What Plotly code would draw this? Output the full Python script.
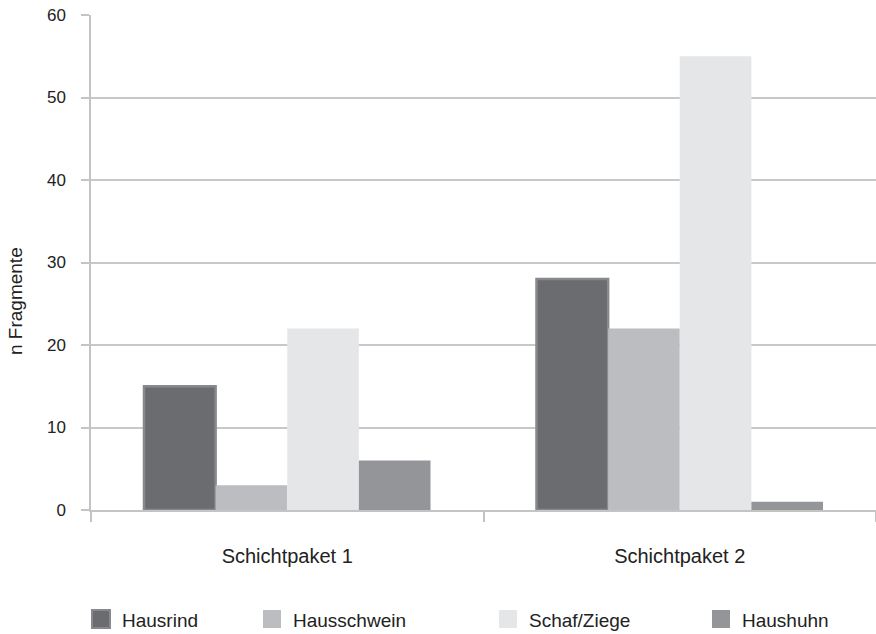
import plotly.graph_objects as go

# Fragment counts per layer package and species
categories = ["Schichtpaket 1", "Schichtpaket 2"]
series_names = ["Hausrind", "Hausschwein", "Schaf/Ziege", "Haushuhn"]
hausrind = [15, 28]
hausschwein = [3, 22]
schaf_ziege = [22, 55]
haushuhn = [6, 1]
y_ticks = [0, 10, 20, 30, 40, 50, 60]

series_values = [hausrind, hausschwein, schaf_ziege, haushuhn]
colors = ["#6b6c70", "#bcbdc0", "#e5e6e8", "#949598"]
outline = ["#88898d", None, None, None]

FONT = "Liberation Sans, Arial, sans-serif"
TEXT = "#222222"

W, H = 876, 634
L, T, B = 91, 15, 124
PW, PH = W - L, H - T - B


def px_x(x):
    return (x - L) / PW


def px_y(y):
    return (H - B - y) / PH


fig = go.Figure()
for name, vals, col, ol in zip(series_names, series_values, colors, outline):
    fig.add_trace(go.Bar(
        x=categories, y=vals, name=name,
        marker=dict(color=col,
                    line=dict(color=ol if ol else col, width=2.5 if ol else 0)),
        showlegend=False,
    ))

# Legend keys drawn below the plot
legend_x = [92, 263, 499, 712]
for name, col, ol, lx in zip(series_names, colors, outline, legend_x):
    fig.add_shape(type="rect", xref="paper", yref="paper",
                  x0=px_x(lx), x1=px_x(lx + 18),
                  y0=px_y(628), y1=px_y(610),
                  fillcolor=col,
                  line=dict(color=ol if ol else col, width=2 if ol else 0))
    fig.add_annotation(text=name, xref="paper", yref="paper",
                       x=px_x(lx + 28), y=px_y(620),
                       xanchor="left", yanchor="middle", showarrow=False,
                       font=dict(family=FONT, size=19, color=TEXT))

# Y-axis title
fig.add_annotation(text="n Fragmente", xref="paper", yref="paper",
                   x=px_x(15), y=px_y(301), textangle=-90,
                   xanchor="center", yanchor="middle", showarrow=False,
                   font=dict(family=FONT, size=19, color=TEXT))

fig.update_layout(
    width=W, height=H,
    margin=dict(l=L, r=0, t=T, b=B),
    paper_bgcolor="white", plot_bgcolor="white",
    barmode="group", bargap=0.27, bargroupgap=0,
    font=dict(family=FONT, color=TEXT),
)
fig.update_xaxes(
    showgrid=False, showline=True, linecolor="#c4c4c4", linewidth=1.5,
    ticks="outside", tickson="boundaries", ticklen=10, tickcolor="#c4c4c4",
    tickwidth=1.5, tickfont=dict(family=FONT, size=20, color=TEXT),
    ticklabelstandoff=27,
)
fig.update_yaxes(
    range=[0, 60], tickvals=y_ticks, showgrid=True, gridcolor="#c8c8c8",
    gridwidth=1.5, showline=True, linecolor="#c4c4c4", linewidth=1.5,
    ticks="outside", ticklen=8, tickcolor="#c4c4c4", tickwidth=1.5,
    zeroline=False, ticklabelstandoff=12,
    tickfont=dict(family=FONT, size=17, color=TEXT),
)

fig.write_html("out.html")
